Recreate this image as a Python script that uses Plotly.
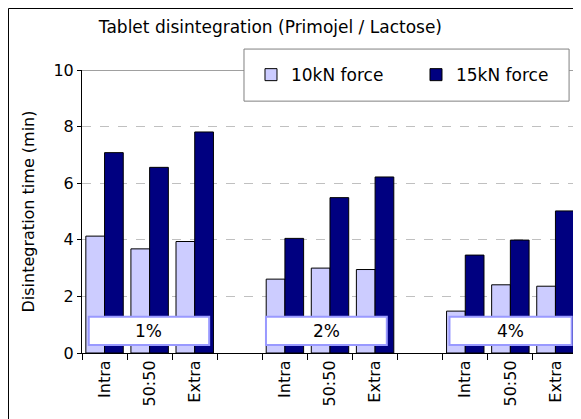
import plotly.graph_objects as go

# category slots: 3 methods per concentration, empty slot between groups
slots = [0, 1, 2, 4, 5, 6, 8, 9, 10]
slot_labels = ['Intra', '50:50', 'Extra'] * 3
force_10kn = [4.13, 3.68, 3.94, 2.61, 3.00, 2.95, 1.48, 2.41, 2.36]
force_15kn = [7.08, 6.56, 7.81, 4.05, 5.49, 6.22, 3.46, 3.99, 5.02]
conc_labels = ['1%', '2%', '4%']
conc_spans = [(-0.35, 2.32), (3.58, 6.26), (7.65, 10.36)]

FONT = 'DejaVu Sans'

fig = go.Figure()
fig.add_trace(go.Bar(x=slots, y=force_10kn, name='10kN force',
                     marker=dict(color='#CCCCFF', line=dict(color='black', width=1))))
fig.add_trace(go.Bar(x=slots, y=force_15kn, name='15kN force',
                     marker=dict(color='#000080', line=dict(color='black', width=1))))

shapes = [
    # outer chart border (cut off at right and bottom, like the source)
    dict(type='rect', xref='paper', yref='paper', x0=-0.1482, x1=1.5, y0=-0.5, y1=1.2173,
         line=dict(color='black', width=1), layer='below'),
    # plot area top border
    dict(type='line', xref='x', yref='y', x0=-0.5, x1=10.5, y0=10, y1=10,
         line=dict(color='#808080', width=1.5), layer='above'),
    # legend box
    dict(type='rect', xref='paper', yref='paper', x0=0.3266, x1=0.982, y0=0.890, y1=1.074,
         line=dict(color='#808080', width=1), fillcolor='white', layer='above'),
]
annotations = []
for lab, (a, b) in zip(conc_labels, conc_spans):
    shapes.append(dict(type='rect', xref='x', yref='y', x0=a, x1=b, y0=0.28, y1=1.28,
                       line=dict(color='#9999FF', width=2), fillcolor='white', layer='above'))
    annotations.append(dict(x=(a + b) / 2, y=0.78, xref='x', yref='y', text=lab,
                            showarrow=False, font=dict(family=FONT, size=17, color='black')))

# page body adds an 8px offset, so the figure is sized to the remaining window
fig.update_layout(
    width=573, height=411,
    margin=dict(l=74, r=3, t=62, b=66, autoexpand=False),
    paper_bgcolor='white', plot_bgcolor='white',
    barmode='group', bargap=0.17, bargroupgap=0,
    font=dict(family=FONT, size=16, color='black'),
    title=dict(text='Tablet disintegration (Primojel / Lactose)', x=0.458, xanchor='center',
               y=0.9545, yanchor='middle', font=dict(family=FONT, size=17, color='black')),
    legend=dict(orientation='h', x=0.3407, y=0.982, xanchor='left', yanchor='middle',
                bgcolor='rgba(0,0,0,0)', borderwidth=0, font=dict(size=17),
                entrywidth=120, itemwidth=30),
    shapes=shapes, annotations=annotations,
)
fig.update_xaxes(range=[-0.5, 10.5], tickmode='array', tickvals=slots, ticktext=slot_labels,
                 tickangle=-90, ticks='', showline=True, linecolor='black', linewidth=1,
                 showgrid=False, zeroline=False, tickfont=dict(size=16), automargin=False,
                 minor=dict(tickmode='linear', tick0=-0.5, dtick=1, ticks='outside',
                            ticklen=6, tickcolor='black', showgrid=False))
fig.update_yaxes(range=[0, 10], dtick=2, ticks='outside', ticklen=4, tickcolor='black',
                 showline=True, linecolor='black', linewidth=1, mirror=True,
                 showgrid=True, gridcolor='#C0C0C0', griddash='dash', gridwidth=1,
                 zeroline=False, tickfont=dict(size=16), automargin=False,
                 title=dict(text='Disintegration time (min)', font=dict(size=16), standoff=14))

fig.write_html('out.html')
